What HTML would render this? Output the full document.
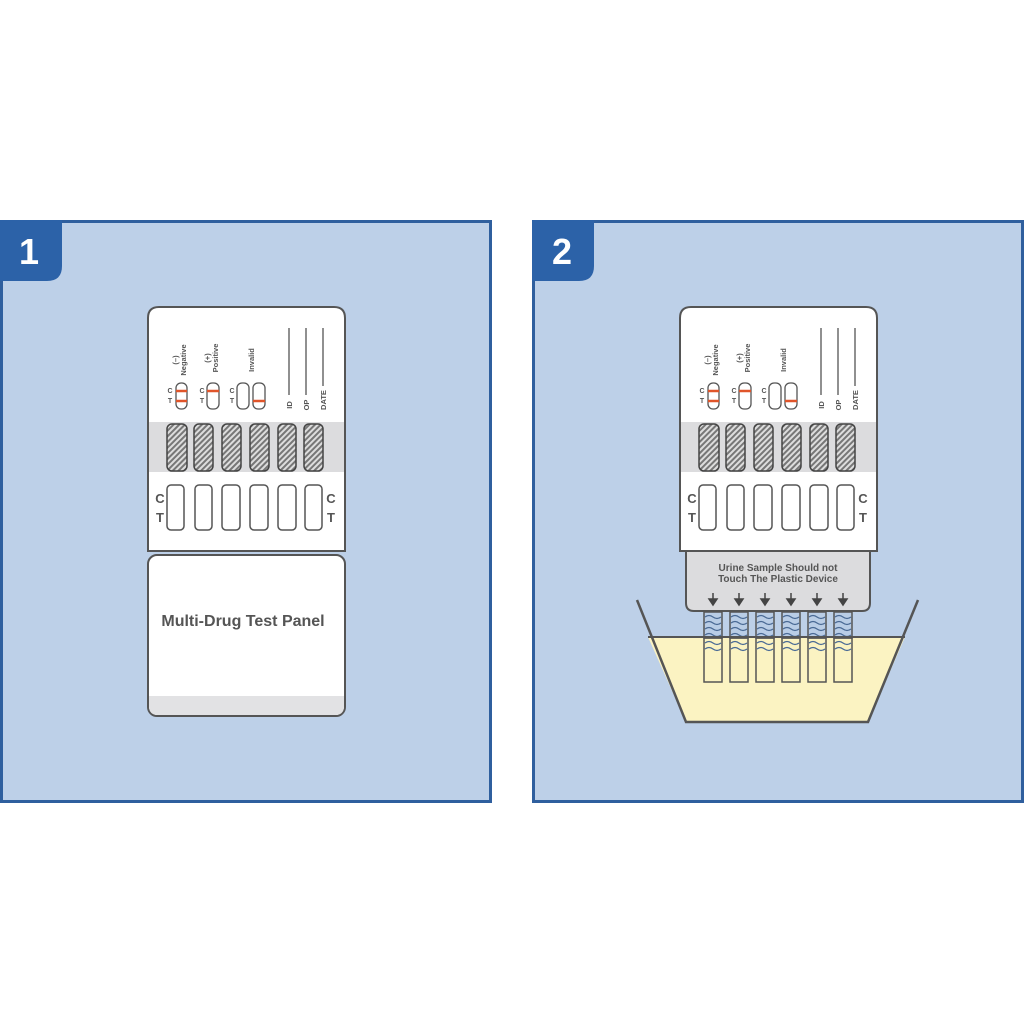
<!DOCTYPE html>
<html><head><meta charset="utf-8"><style>
html,body{margin:0;padding:0;background:#fff;}
svg{display:block;}
text{font-family:"Liberation Sans",sans-serif;font-weight:bold;fill:#555;}
</style></head><body>
<svg width="1024" height="1024" viewBox="0 0 1024 1024" xmlns="http://www.w3.org/2000/svg">
<defs>
<pattern id="hatch" width="4" height="4" patternUnits="userSpaceOnUse" patternTransform="rotate(45)">
<rect width="4" height="4" fill="#777"/><rect width="2" height="4" fill="#ddd"/>
</pattern>
</defs>
<!-- Panel 1 -->
<rect x="1.5" y="221.5" width="489" height="580" fill="#bdd0e8" stroke="#2f5f9e" stroke-width="3"/>
<path d="M0 220 H62 V266 Q62 281 47 281 H0 Z" fill="#2c62a8"/>
<text x="29" y="264" font-size="36" text-anchor="middle" style="fill:#fff">1</text>
<!-- Panel 2 -->
<rect x="533.5" y="221.5" width="489" height="580" fill="#bdd0e8" stroke="#2f5f9e" stroke-width="3"/>
<path d="M532 220 H594 V266 Q594 281 579 281 H532 Z" fill="#2c62a8"/>
<text x="562" y="264" font-size="36" text-anchor="middle" style="fill:#fff">2</text>

<!-- Device 1 lower card -->
<rect x="148" y="555" width="197" height="161" rx="9" fill="#fff" stroke="#555" stroke-width="2"/>
<path d="M149 696 H344 V706 Q344 715 335 715 H158 Q149 715 149 706 Z" fill="#e2e2e4"/>
<text x="243" y="626" font-size="16" text-anchor="middle">Multi-Drug Test Panel</text>

<!-- Cup in panel 2 (behind device) -->
<path d="M648 637 H905 L868 722 H686 Z" fill="#fbf3c2"/>
<g id="strips">
</g>

<!-- Device group 1 -->
<g id="dev1">
<path d="M148 551 V318 Q148 307 159 307 H334 Q345 307 345 318 V551 Z" fill="#fff" stroke="#555" stroke-width="2"/>
<rect x="149" y="422" width="195" height="50" fill="#dcdcde"/>
<g fill="url(#hatch)" stroke="#444" stroke-width="1.5">
<rect x="167" y="424" width="20" height="47" rx="5"/>
<rect x="194" y="424" width="19" height="47" rx="5"/>
<rect x="222" y="424" width="19" height="47" rx="5"/>
<rect x="250" y="424" width="19" height="47" rx="5"/>
<rect x="278" y="424" width="18" height="47" rx="5"/>
<rect x="304" y="424" width="19" height="47" rx="5"/>
</g>
<g fill="#fff" stroke="#555" stroke-width="1.5">
<rect x="167" y="485" width="17" height="45" rx="4"/>
<rect x="195" y="485" width="17" height="45" rx="4"/>
<rect x="222" y="485" width="18" height="45" rx="4"/>
<rect x="250" y="485" width="18" height="45" rx="4"/>
<rect x="278" y="485" width="18" height="45" rx="4"/>
<rect x="305" y="485" width="17" height="45" rx="4"/>
</g>
<text x="160" y="503" font-size="13" text-anchor="middle">C</text>
<text x="160" y="522" font-size="13" text-anchor="middle">T</text>
<text x="331" y="503" font-size="13" text-anchor="middle">C</text>
<text x="331" y="522" font-size="13" text-anchor="middle">T</text>
<!-- capsules -->
<g fill="#fff" stroke="#555" stroke-width="1.3">
<rect x="176" y="383" width="11" height="26" rx="5"/>
<rect x="207" y="383" width="12" height="26" rx="5"/>
<rect x="237" y="383" width="12" height="26" rx="5"/>
<rect x="253" y="383" width="12" height="26" rx="5"/>
</g>
<g stroke="#e0552a" stroke-width="2.5">
<line x1="176" y1="391" x2="187" y2="391"/><line x1="176" y1="401" x2="187" y2="401"/>
<line x1="207" y1="391" x2="219" y2="391"/>
<line x1="253" y1="401" x2="265" y2="401"/>
</g>
<g font-size="7">
<text x="170" y="393" text-anchor="middle">C</text><text x="170" y="403" text-anchor="middle">T</text>
<text x="202" y="393" text-anchor="middle">C</text><text x="202" y="403" text-anchor="middle">T</text>
<text x="232" y="393" text-anchor="middle">C</text><text x="232" y="403" text-anchor="middle">T</text>
</g>
<g font-size="7.5">
<text transform="translate(178,360) rotate(-90)" text-anchor="middle">(–)</text>
<text transform="translate(186,360) rotate(-90)" text-anchor="middle">Negative</text>
<text transform="translate(210,358) rotate(-90)" text-anchor="middle">(+)</text>
<text transform="translate(218,358) rotate(-90)" text-anchor="middle">Positive</text>
<text transform="translate(254,360) rotate(-90)" text-anchor="middle">Invalid</text>
<text transform="translate(292,405) rotate(-90)" text-anchor="middle">ID</text>
<text transform="translate(309,405) rotate(-90)" text-anchor="middle">OP</text>
<text transform="translate(326,400) rotate(-90)" text-anchor="middle">DATE</text>
</g>
<g stroke="#555" stroke-width="1.3">
<line x1="289" y1="328" x2="289" y2="395"/>
<line x1="306" y1="328" x2="306" y2="395"/>
<line x1="323" y1="328" x2="323" y2="386"/>
</g>
</g>

<!-- Panel 2 device -->
<g transform="translate(532,0)">
<path d="M154 551 V603 Q154 611 162 611 H330 Q338 611 338 603 V551 Z" fill="#dcdcde" stroke="#555" stroke-width="2"/>
<text x="246" y="571" font-size="10" text-anchor="middle">Urine Sample Should not</text>
<text x="246" y="582" font-size="10" text-anchor="middle">Touch The Plastic Device</text>
<g fill="#444" stroke="#444" stroke-width="1.5">
<line x1="181" y1="593" x2="181" y2="600"/><path d="M177 599 L185 599 L181 605Z"/>
<line x1="207" y1="593" x2="207" y2="600"/><path d="M203 599 L211 599 L207 605Z"/>
<line x1="233" y1="593" x2="233" y2="600"/><path d="M229 599 L237 599 L233 605Z"/>
<line x1="259" y1="593" x2="259" y2="600"/><path d="M255 599 L263 599 L259 605Z"/>
<line x1="285" y1="593" x2="285" y2="600"/><path d="M281 599 L289 599 L285 605Z"/>
<line x1="311" y1="593" x2="311" y2="600"/><path d="M307 599 L315 599 L311 605Z"/>
</g>
<!-- strips -->
<g stroke="#555" stroke-width="1.5">
<g fill="#b9cde6">
<rect x="172" y="612" width="18" height="26"/><rect x="198" y="612" width="18" height="26"/>
<rect x="224" y="612" width="18" height="26"/><rect x="250" y="612" width="18" height="26"/>
<rect x="276" y="612" width="18" height="26"/><rect x="302" y="612" width="18" height="26"/>
</g>
<g fill="none">
<rect x="172" y="638" width="18" height="44"/><rect x="198" y="638" width="18" height="44"/>
<rect x="224" y="638" width="18" height="44"/><rect x="250" y="638" width="18" height="44"/>
<rect x="276" y="638" width="18" height="44"/><rect x="302" y="638" width="18" height="44"/>
</g>
</g>
<g fill="none" stroke="#4a6a95" stroke-width="1.2">
<path id="w" d="M173 617 q4 -3 8 0 t8 0 M173 623 q4 -3 8 0 t8 0 M173 629 q4 -3 8 0 t8 0 M173 635 q4 -3 8 0 t8 0 M173 643 q4 -3 8 0 t8 0 M173 649 q4 -3 8 0 t8 0"/>
<path transform="translate(26,0)" d="M173 617 q4 -3 8 0 t8 0 M173 623 q4 -3 8 0 t8 0 M173 629 q4 -3 8 0 t8 0 M173 635 q4 -3 8 0 t8 0 M173 643 q4 -3 8 0 t8 0 M173 649 q4 -3 8 0 t8 0"/>
<path transform="translate(52,0)" d="M173 617 q4 -3 8 0 t8 0 M173 623 q4 -3 8 0 t8 0 M173 629 q4 -3 8 0 t8 0 M173 635 q4 -3 8 0 t8 0 M173 643 q4 -3 8 0 t8 0 M173 649 q4 -3 8 0 t8 0"/>
<path transform="translate(78,0)" d="M173 617 q4 -3 8 0 t8 0 M173 623 q4 -3 8 0 t8 0 M173 629 q4 -3 8 0 t8 0 M173 635 q4 -3 8 0 t8 0 M173 643 q4 -3 8 0 t8 0 M173 649 q4 -3 8 0 t8 0"/>
<path transform="translate(104,0)" d="M173 617 q4 -3 8 0 t8 0 M173 623 q4 -3 8 0 t8 0 M173 629 q4 -3 8 0 t8 0 M173 635 q4 -3 8 0 t8 0 M173 643 q4 -3 8 0 t8 0 M173 649 q4 -3 8 0 t8 0"/>
<path transform="translate(130,0)" d="M173 617 q4 -3 8 0 t8 0 M173 623 q4 -3 8 0 t8 0 M173 629 q4 -3 8 0 t8 0 M173 635 q4 -3 8 0 t8 0 M173 643 q4 -3 8 0 t8 0 M173 649 q4 -3 8 0 t8 0"/>
</g>
</g>
<!-- cup outline -->
<path d="M637 600 L686 722 H868 L918 600" fill="none" stroke="#555" stroke-width="2.5"/>
<line x1="648" y1="637" x2="905" y2="637" stroke="#555" stroke-width="2"/>

<g transform="translate(532,0)">
<path d="M148 551 V318 Q148 307 159 307 H334 Q345 307 345 318 V551 Z" fill="#fff" stroke="#555" stroke-width="2"/>
<rect x="149" y="422" width="195" height="50" fill="#dcdcde"/>
<g fill="url(#hatch)" stroke="#444" stroke-width="1.5">
<rect x="167" y="424" width="20" height="47" rx="5"/>
<rect x="194" y="424" width="19" height="47" rx="5"/>
<rect x="222" y="424" width="19" height="47" rx="5"/>
<rect x="250" y="424" width="19" height="47" rx="5"/>
<rect x="278" y="424" width="18" height="47" rx="5"/>
<rect x="304" y="424" width="19" height="47" rx="5"/>
</g>
<g fill="#fff" stroke="#555" stroke-width="1.5">
<rect x="167" y="485" width="17" height="45" rx="4"/>
<rect x="195" y="485" width="17" height="45" rx="4"/>
<rect x="222" y="485" width="18" height="45" rx="4"/>
<rect x="250" y="485" width="18" height="45" rx="4"/>
<rect x="278" y="485" width="18" height="45" rx="4"/>
<rect x="305" y="485" width="17" height="45" rx="4"/>
</g>
<text x="160" y="503" font-size="13" text-anchor="middle">C</text>
<text x="160" y="522" font-size="13" text-anchor="middle">T</text>
<text x="331" y="503" font-size="13" text-anchor="middle">C</text>
<text x="331" y="522" font-size="13" text-anchor="middle">T</text>
<g fill="#fff" stroke="#555" stroke-width="1.3">
<rect x="176" y="383" width="11" height="26" rx="5"/>
<rect x="207" y="383" width="12" height="26" rx="5"/>
<rect x="237" y="383" width="12" height="26" rx="5"/>
<rect x="253" y="383" width="12" height="26" rx="5"/>
</g>
<g stroke="#e0552a" stroke-width="2.5">
<line x1="176" y1="391" x2="187" y2="391"/><line x1="176" y1="401" x2="187" y2="401"/>
<line x1="207" y1="391" x2="219" y2="391"/>
<line x1="253" y1="401" x2="265" y2="401"/>
</g>
<g font-size="7">
<text x="170" y="393" text-anchor="middle">C</text><text x="170" y="403" text-anchor="middle">T</text>
<text x="202" y="393" text-anchor="middle">C</text><text x="202" y="403" text-anchor="middle">T</text>
<text x="232" y="393" text-anchor="middle">C</text><text x="232" y="403" text-anchor="middle">T</text>
</g>
<g font-size="7.5">
<text transform="translate(178,360) rotate(-90)" text-anchor="middle">(–)</text>
<text transform="translate(186,360) rotate(-90)" text-anchor="middle">Negative</text>
<text transform="translate(210,358) rotate(-90)" text-anchor="middle">(+)</text>
<text transform="translate(218,358) rotate(-90)" text-anchor="middle">Positive</text>
<text transform="translate(254,360) rotate(-90)" text-anchor="middle">Invalid</text>
<text transform="translate(292,405) rotate(-90)" text-anchor="middle">ID</text>
<text transform="translate(309,405) rotate(-90)" text-anchor="middle">OP</text>
<text transform="translate(326,400) rotate(-90)" text-anchor="middle">DATE</text>
</g>
<g stroke="#555" stroke-width="1.3">
<line x1="289" y1="328" x2="289" y2="395"/>
<line x1="306" y1="328" x2="306" y2="395"/>
<line x1="323" y1="328" x2="323" y2="386"/>
</g>
</g>
</svg>
</body></html>
